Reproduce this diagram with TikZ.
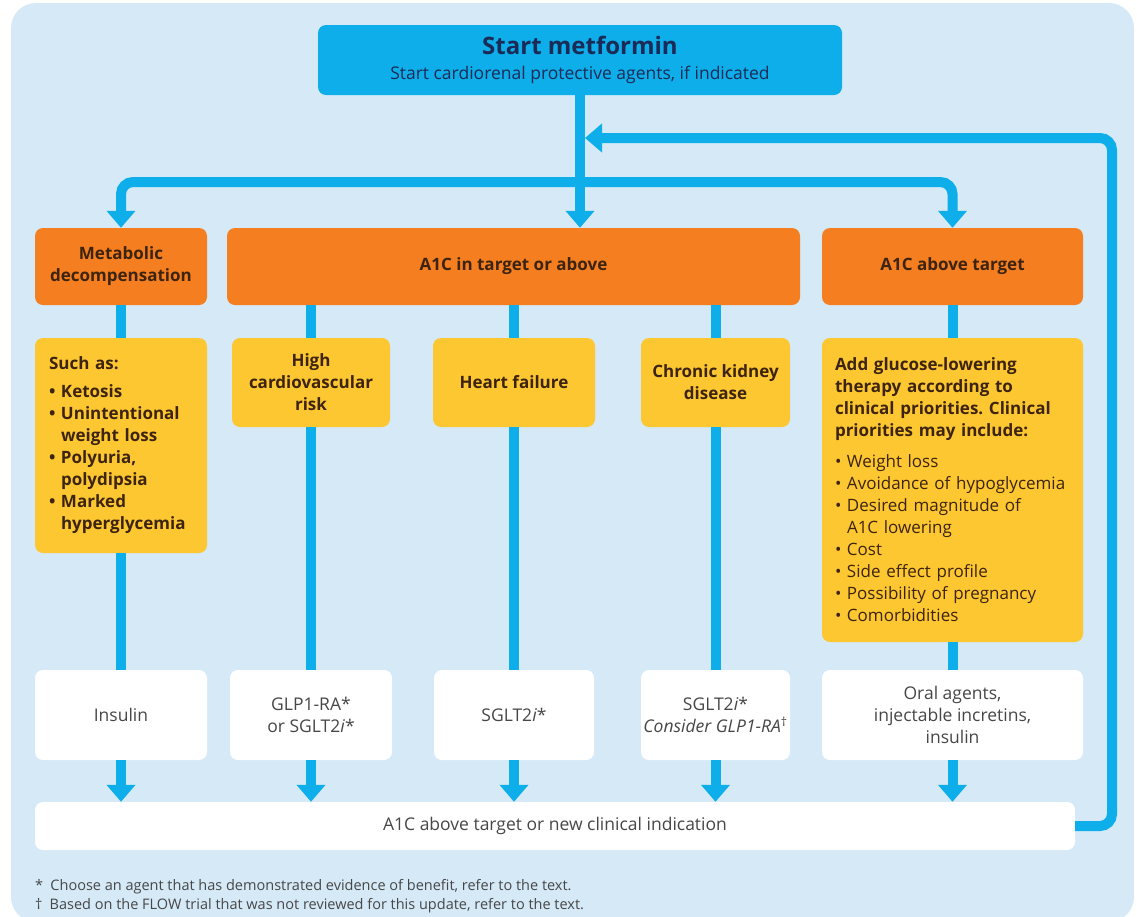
\documentclass[tikz,border=0pt]{standalone}
\usepackage{fontspec}
\setmainfont{Open Sans}
\usetikzlibrary{arrows.meta}
\usetikzlibrary{positioning}
\frenchspacing
\definecolor{fond}{HTML}{D5E9F7}
\definecolor{bleu}{HTML}{0DAEE9}
\definecolor{marine}{HTML}{1B2B57}
\definecolor{orangeada}{HTML}{F47E20}
\definecolor{jaune}{HTML}{FDC731}
\definecolor{brun}{HTML}{3D2410}
\definecolor{gris}{HTML}{474747}
\newcommand{\puce}{\makebox[12pt][l]{\textbullet}}
\newcommand{\retrait}{\hspace*{12pt}}
\tikzstyle{debut}=[rectangle,rounded corners=8pt,fill=bleu,text=marine,
        minimum width=524pt,minimum height=70pt,inner sep=0pt,align=center,
        font=\fontsize{17.5}{25}\selectfont]
\tikzstyle{etat}=[rectangle,rounded corners=8pt,fill=orangeada,text=brun,
        minimum height=77pt,inner sep=0pt,align=center,
        font=\bfseries\fontsize{17}{22}\selectfont]
\tikzstyle{critere}=[rectangle,rounded corners=8pt,fill=jaune,text=brun,
        inner sep=0pt,align=center,font=\bfseries\fontsize{17}{22}\selectfont]
\tikzstyle{choix}=[rectangle,rounded corners=8pt,fill=white,text=gris,
        minimum height=90pt,inner sep=0pt,align=center,
        font=\fontsize{17.5}{22}\selectfont]
\tikzstyle{note}=[anchor=west,inner sep=0pt,text=gris,font=\fontsize{14.5}{17}\selectfont]
\tikzstyle{trait}=[line width=10pt,draw=bleu]
\tikzstyle{suite}=[-{Triangle[width=28pt,length=17pt]},line width=10pt,draw=bleu,rounded corners=12pt]

\begin{document}
\begin{tikzpicture}[x=1pt,y=-1pt]
\useasboundingbox (0,0) rectangle (1137,916);
\fill[fond,rounded corners=25pt] (11,3) rectangle (1134,922);
\node[debut] (start) at (580,60) {{\bfseries\fontsize{24}{25}\selectfont Start metformin}\\
        Start cardiorenal protective agents, if indicated};
\node[etat,minimum width=172pt] (meta) at (121,266.5) {Metabolic\\decompensation};
\node[etat,minimum width=573pt] (cible) at (513.5,266.5) {A1C in target or above};
\node[etat,minimum width=261pt] (dessus) at (952.5,266.5) {A1C above target};
\node[critere,minimum width=172pt,minimum height=215pt,text width=144pt,align=left] (signes) at (121,445.5)
        {Such as:\\[6pt]
        \puce Ketosis\\
        \puce Unintentional\\
        \retrait weight loss\\
        \puce Polyuria,\\
        \retrait polydipsia\\
        \puce Marked\\
        \retrait hyperglycemia};
\node[critere,minimum width=158pt,minimum height=89pt] (risque) at (311,382.5) {High\\cardiovascular\\risk};
\node[critere,minimum width=162pt,minimum height=89pt] (coeur) at (514,382.5) {Heart failure};
\node[critere,minimum width=149pt,minimum height=89pt] (rein) at (715.5,382.5) {Chronic kidney\\disease};
\node[critere,minimum width=261pt,minimum height=304pt,text width=235pt,align=left] (priorites) at (952.5,490)
        {Add glucose-lowering\\therapy according to\\clinical priorities. Clinical\\priorities may include:\\[9pt]
        \mdseries\puce Weight loss\\
        \puce Avoidance of hypoglycemia\\
        \puce Desired magnitude of\\
        \retrait A1C lowering\\
        \puce Cost\\
        \puce Side effect profile\\
        \puce Possibility of pregnancy\\
        \puce Comorbidities};
\node[choix,minimum width=172pt] (insuline) at (121,715) {Insulin};
\node[choix,minimum width=162pt] (glp) at (311,715) {GLP1-RA*\\or SGLT2\textit{i}*};
\node[choix,minimum width=160pt] (sglt) at (514,715) {SGLT2\textit{i}*};
\node[choix,minimum width=149pt] (sgltrein) at (715.5,715) {SGLT2\textit{i}*\\\textit{Consider GLP1-RA}\textsuperscript{†}};
\node[choix,minimum width=261pt] (oral) at (952.5,715) {Oral agents,\\injectable incretins,\\insulin};
\node[choix,minimum width=1040pt,minimum height=48pt] (reeval) at (555,826) {A1C above target or new clinical indication};
\node[note] (note1) at (35,887) {*\enspace Choose an agent that has demonstrated evidence of benefit, refer to the text.};
\node[note] (note2) at (35,906) {†\enspace Based on the FLOW trial that was not reviewed for this update, refer to the text.};
\coordinate (fourche) at (580,182);
\coordinate (retour) at (1112,138);
%Placement des fleches
\draw[suite] (start) -- (start |- cible.north);
\draw[suite] (fourche) -| (meta);
\draw[suite] (fourche) -| (dessus);
\draw[suite,shorten >=5pt] (reeval) -| (retour) -- (retour -| start);
\draw[trait] (meta) -- (signes);
\draw[trait] (risque |- cible.south) -- (risque);
\draw[trait] (coeur |- cible.south) -- (coeur);
\draw[trait] (rein |- cible.south) -- (rein);
\draw[trait] (dessus) -- (priorites);
\draw[trait] (signes) -- (insuline);
\draw[trait] (risque) -- (glp);
\draw[trait] (coeur) -- (sglt);
\draw[trait] (rein) -- (sgltrein);
\draw[trait] (priorites) -- (oral);
\foreach \n in {insuline,glp,sglt,sgltrein,oral}
        \draw[suite] (\n) -- (\n |- reeval.north);
\end{tikzpicture}
\end{document}
